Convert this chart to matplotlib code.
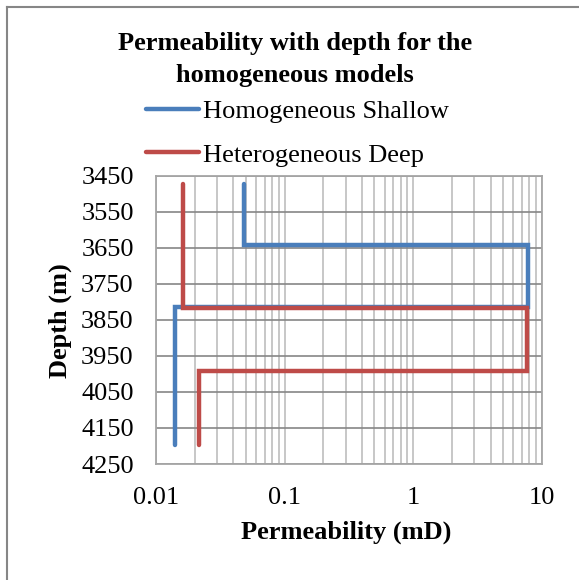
import matplotlib
matplotlib.use('Agg')
from matplotlib import pyplot as plt
from matplotlib.lines import Line2D
import numpy as np

plt.rcParams['font.family'] = ['Liberation Serif', 'DejaVu Serif']

# permeability (mD) vs depth (m), step profiles
shallow_perm = [0.048, 0.048, 7.8, 7.8, 0.014, 0.014]
shallow_depth = [3472, 3642, 3642, 3813, 3813, 4197]
deep_perm = [0.0162, 0.0162, 7.7, 7.7, 0.0215, 0.0215]
deep_depth = [3472, 3817, 3817, 3993, 3993, 4197]
names = ['Homogeneous Shallow', 'Heterogeneous Deep']
depth_ticks = list(range(3450, 4251, 100))
perm_ticks = [0.01, 0.1, 1, 10]
perm_labels = ['0.01', '0.1', '1', '10']

fig = plt.figure(figsize=(5.79, 5.80), dpi=100)
ax = fig.add_axes([0.2694, 0.2, 0.6662, 0.4966])

l1, = ax.plot(shallow_perm, shallow_depth, color='#4a7ebb', lw=3.2, solid_capstyle='round', solid_joinstyle='miter')
l2, = ax.plot(deep_perm, deep_depth, color='#be4b48', lw=3.2, solid_capstyle='round', solid_joinstyle='miter')

ax.set_xscale('log')
ax.set_xlim(0.01, 10)
ax.set_ylim(4250, 3450)
ax.set_yticks(depth_ticks)
ax.set_xticks(perm_ticks)
ax.set_xticklabels(perm_labels)
ax.tick_params(axis='both', length=0, labelsize=19)
ax.tick_params(axis='x', pad=16.5)
ax.tick_params(axis='y', pad=16)
ax.tick_params(axis='x', which='minor', length=0)
ax.grid(True, which='major', axis='y', color='#868686', lw=1.2)
ax.grid(True, which='both', axis='x', color='#bdbdbd', lw=1.2)
ax.set_axisbelow(True)
for s in ax.spines.values():
    s.set_color('#a6a6a6')
    s.set_linewidth(1.3)

ax.set_xlabel('Permeability (mD)', fontsize=19, fontweight='bold', va='center')
ax.xaxis.set_label_coords(0.493, (464 - 532) / 288)
ax.set_ylabel('Depth (m)', fontsize=19, fontweight='bold', va='center')
ax.yaxis.set_label_coords((60 - 156) / 385, 0.497)

fig.text(0.510, 0.898, 'Permeability with depth for the\nhomogeneous models', ha='center', va='center',
         fontsize=19, fontweight='bold', linespacing=1.5)

fig.legend([l1, l2], names, loc='upper left', bbox_to_anchor=(0.234, 0.847), frameon=False,
           fontsize=19, handlelength=2.0, handletextpad=0.15, labelspacing=0.77, borderaxespad=0)

# outer border
fig.add_artist(Line2D([7.4/579, 7.4/579], [0, 1 - 7.4/580], color='#868686', lw=1.5))
fig.add_artist(Line2D([7.4/579, 1], [1 - 7.4/580, 1 - 7.4/580], color='#868686', lw=1.5))

fig.savefig('out.png', dpi=100)
